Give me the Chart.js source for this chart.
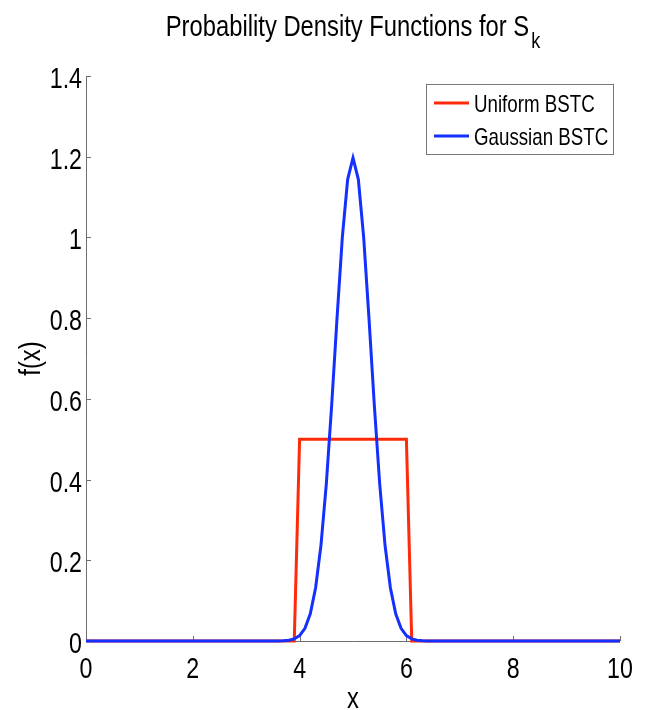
<!DOCTYPE html>
<html>
<head>
<meta charset="utf-8">
<script src="https://cdn.jsdelivr.net/npm/chart.js@4.4.1/dist/chart.umd.min.js"></script>
<style>
  html, body { margin: 0; padding: 0; background: #fff; }
  #wrap { width: 646px; height: 710px; }
</style>
</head>
<body>
<div id="wrap"><canvas id="pdf"></canvas></div>
<script>
const uniformX = [0, 3.9, 4.0, 6.0, 6.1, 10];
const uniformY = [0, 0, 0.5, 0.5, 0, 0];

const gaussX = [0, 3.5, 3.6, 3.7, 3.8, 3.9, 4.0, 4.1, 4.2, 4.3, 4.4, 4.5, 4.6, 4.7, 4.8, 4.9,
  5.0, 5.1, 5.2, 5.3, 5.4, 5.5, 5.6, 5.7, 5.8, 5.9, 6.0, 6.1, 6.2, 6.3, 6.4, 6.5, 10];
const gaussY = [0, 0.00005, 0.00018, 0.0006, 0.0018, 0.0052, 0.0133, 0.0313, 0.0672, 0.132, 0.237, 0.389, 0.583, 0.798, 1.0, 1.144,
  1.197, 1.144, 1.0, 0.798, 0.583, 0.389, 0.237, 0.132, 0.0672, 0.0313, 0.0133, 0.0052, 0.0018, 0.0006, 0.00018, 0.00005, 0];

const seriesNames = ["Uniform BSTC", "Gaussian BSTC"];
const seriesColors = ["#ff2a0a", "#1430ff"];

const titleText = "Probability Density Functions for S";
const titleSub = "k";
const xTitle = "x";
const yTitle = "f(x)";

const FONT = '"Liberation Sans", Arial, Helvetica, sans-serif';

function pts(xs, ys) {
  return xs.map((x, i) => ({ x: x, y: ys[i] }));
}

// the original text is squeezed sideways, so draw it with a horizontal scale
function text(ctx, str, x, y, size, align, sx) {
  ctx.save();
  ctx.translate(x, y);
  ctx.scale(sx, 1);
  ctx.font = `${size}px ${FONT}`;
  ctx.textAlign = align;
  ctx.textBaseline = "alphabetic";
  ctx.fillStyle = "#000";
  ctx.fillText(str, 0, 0);
  ctx.restore();
}

function fmt(v) {
  return String(Number(v.toFixed(1)));
}

const matlabLook = {
  id: "matlabLook",
  beforeDraw(chart) {
    const ctx = chart.ctx;
    ctx.save();
    ctx.fillStyle = "#fff";
    ctx.fillRect(0, 0, chart.width, chart.height);
    ctx.restore();
  },
  beforeDatasetsDraw(chart) {
    const ctx = chart.ctx;
    const a = chart.chartArea;
    const xs = chart.scales.x;
    const ys = chart.scales.y;
    ctx.save();
    ctx.strokeStyle = "#6e6e6e";
    ctx.lineWidth = 1;
    ctx.beginPath();
    ctx.moveTo(a.left + 0.5, a.top);
    ctx.lineTo(a.left + 0.5, a.bottom + 0.5);
    ctx.lineTo(a.right, a.bottom + 0.5);
    // inward ticks
    ys.ticks.forEach((t) => {
      const y = Math.round(ys.getPixelForValue(t.value)) + 0.5;
      ctx.moveTo(a.left, y);
      ctx.lineTo(a.left + 5, y);
    });
    xs.ticks.forEach((t) => {
      const x = Math.round(xs.getPixelForValue(t.value)) + 0.5;
      ctx.moveTo(x, a.bottom);
      ctx.lineTo(x, a.bottom - 5);
    });
    ctx.stroke();
    ctx.restore();
  },
  afterDraw(chart) {
    const ctx = chart.ctx;
    const a = chart.chartArea;
    const xs = chart.scales.x;
    const ys = chart.scales.y;

    // tick labels
    ys.ticks.forEach((t) => {
      text(ctx, fmt(t.value), a.left - 4, ys.getPixelForValue(t.value) + 12, 29, "right", 0.8);
    });
    xs.ticks.forEach((t) => {
      text(ctx, fmt(t.value), xs.getPixelForValue(t.value), a.bottom + 37, 29, "center", 0.8);
    });

    const midX = (a.left + a.right) / 2;

    // axis titles
    text(ctx, xTitle, midX, 708, 29, "center", 0.82);
    ctx.save();
    ctx.translate(40, (a.top + a.bottom) / 2);
    ctx.rotate(-Math.PI / 2);
    text(ctx, yTitle, 0, 0, 29, "center", 0.82);
    ctx.restore();

    // title with subscript
    const tsx = 0.82;
    ctx.save();
    ctx.font = `29px ${FONT}`;
    const w1 = ctx.measureText(titleText).width * tsx;
    ctx.font = `22px ${FONT}`;
    const w2 = ctx.measureText(titleSub).width * tsx;
    ctx.restore();
    const x0 = midX - (w1 + w2 + 2) / 2;
    text(ctx, titleText, x0, 36, 29, "left", tsx);
    text(ctx, titleSub, x0 + w1 + 2, 48, 22, "left", tsx);

    // legend
    ctx.save();
    ctx.fillStyle = "#fff";
    ctx.fillRect(426, 84, 187, 70);
    ctx.strokeStyle = "#777";
    ctx.lineWidth = 1;
    ctx.strokeRect(426.5, 84.5, 187, 70);
    chart.data.datasets.forEach((ds, i) => {
      const y = 103 + i * 33;
      ctx.strokeStyle = ds.borderColor;
      ctx.lineWidth = 3;
      ctx.beginPath();
      ctx.moveTo(434, y);
      ctx.lineTo(469, y);
      ctx.stroke();
      text(ctx, ds.label, 474, y + 9, 24, "left", 0.78);
    });
    ctx.restore();
  },
};

new Chart(document.getElementById("pdf"), {
  type: "line",
  data: {
    datasets: [
      {
        label: seriesNames[0],
        data: pts(uniformX, uniformY),
        borderColor: seriesColors[0],
        borderWidth: 3,
        pointRadius: 0,
        tension: 0,
        clip: false,
        order: 1,
      },
      {
        label: seriesNames[1],
        data: pts(gaussX, gaussY),
        borderColor: seriesColors[1],
        borderWidth: 3,
        pointRadius: 0,
        tension: 0,
        clip: false,
        order: 0,
      },
    ],
  },
  options: {
    responsive: true,
    maintainAspectRatio: false,
    animation: false,
    events: [],
    layout: { padding: { top: 76, right: 26, left: 0, bottom: 0 } },
    plugins: {
      legend: { display: false },
      title: { display: false },
      tooltip: { enabled: false },
    },
    scales: {
      x: {
        type: "linear",
        min: 0,
        max: 10,
        ticks: { stepSize: 2, display: false },
        grid: { display: false },
        border: { display: false },
        afterFit: (s) => { s.height = 69; },
      },
      y: {
        type: "linear",
        min: 0,
        max: 1.4,
        ticks: { stepSize: 0.2, display: false },
        grid: { display: false },
        border: { display: false },
        afterFit: (s) => { s.width = 86; },
      },
    },
  },
  plugins: [matlabLook],
});
</script>
</body>
</html>
